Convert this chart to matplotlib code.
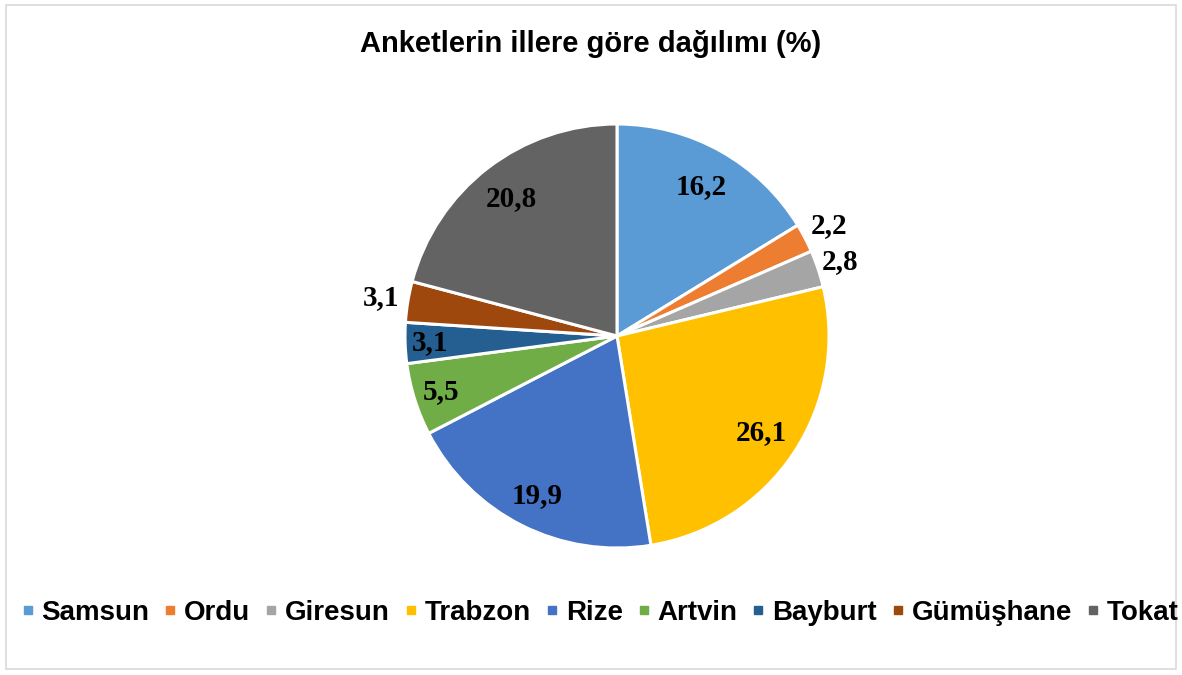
import matplotlib
matplotlib.use("Agg")
import matplotlib.pyplot as plt
import numpy as np
from matplotlib.patches import Rectangle
from matplotlib.lines import Line2D

categories = ["Samsun", "Ordu", "Giresun", "Trabzon", "Rize", "Artvin", "Bayburt", "Gümüşhane", "Tokat"]
values = [16.2, 2.2, 2.8, 26.1, 19.9, 5.5, 3.1, 3.1, 20.8]
value_labels = ["16,2", "2,2", "2,8", "26,1", "19,9", "5,5", "3,1", "3,1", "20,8"]
colors = ["#5B9BD5", "#ED7D31", "#A5A5A5", "#FFC000", "#4472C4", "#70AD47", "#255E91", "#9E480E", "#636363"]
label_dist = [0.81, 1.13, 1.11, 0.82, 0.84, 0.87, 0.88, 1.13, 0.82]

W, H = 1182, 675
fig = plt.figure(figsize=(W / 100, H / 100), dpi=100)
fig.patch.set_facecolor("white")

# border
fig.patches.append(Rectangle((6 / W, 1 - 669 / H), (1176 - 6) / W, (669 - 5) / H,
                             transform=fig.transFigure, fill=False, edgecolor="#D9D9D9", lw=1.2))

cx, cy, r = 617, 336, 212
ax = fig.add_axes([(cx - r) / W, (H - cy - r) / H, 2 * r / W, 2 * r / H])
wedges, _ = ax.pie(values, colors=colors, startangle=90, counterclock=False,
                   wedgeprops=dict(edgecolor="white", linewidth=2.2), radius=1.0)
ax.set_xlim(-1, 1)
ax.set_ylim(-1, 1)
ax.set_aspect("equal")
ax.axis("off")

for w, lab, d in zip(wedges, value_labels, label_dist):
    ang = np.deg2rad((w.theta1 + w.theta2) / 2)
    ax.text(d * np.cos(ang), d * np.sin(ang), lab, ha="center", va="center",
            fontsize=21, fontweight="bold", family="Liberation Serif", color="black")

fig.text(0.5, 1 - 44 / H, "Anketlerin illere göre dağılımı (%)", ha="center", va="center",
         fontsize=21, fontweight="bold", family="Liberation Sans")

handles = [Line2D([], [], marker="s", linestyle="none", markersize=6, color=c) for c in colors]
leg = fig.legend(handles, categories, loc="center", bbox_to_anchor=(601 / W, 1 - 613 / H), ncol=9,
                 frameon=False, handlelength=0.3, handletextpad=0.35, columnspacing=0.6,
                 prop=dict(family="Liberation Sans", weight="bold", size=20))

fig.savefig("out.png", dpi=100)
